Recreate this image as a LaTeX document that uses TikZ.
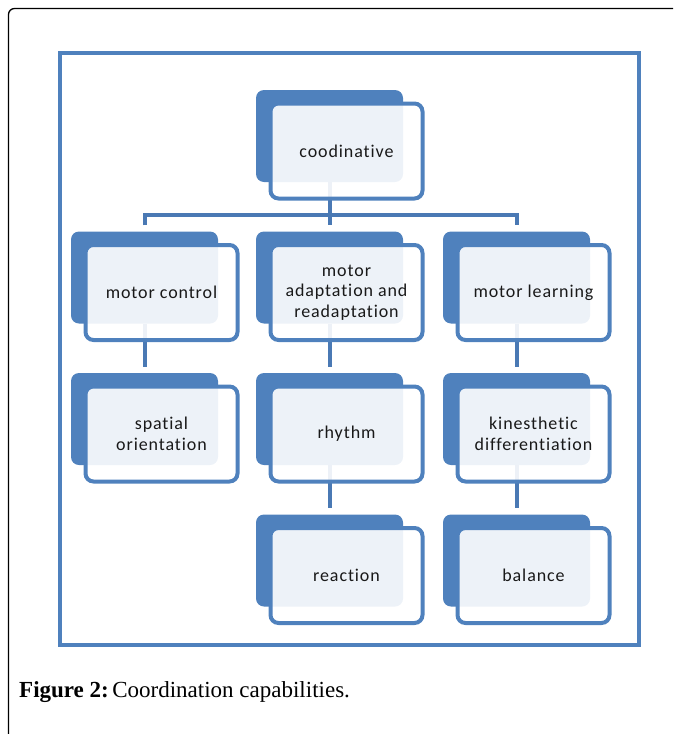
\documentclass[tikz,border=0pt]{standalone}
\usepackage{fontspec}
\setmainfont{Liberation Serif}
\newfontfamily\boxfont[Ligatures=NoCommon,LetterSpace=5]{Carlito}
\definecolor{sablue}{HTML}{4F81BD}
\definecolor{conblue}{HTML}{4A79B4}
\begin{document}
\begin{tikzpicture}[x=1pt,y=-1pt,
 backbox/.style={fill=sablue, rounded corners=8pt, minimum width=147pt, minimum height=92pt, inner sep=0pt},
 frontbox/.style={draw=sablue, line width=4pt, fill=white, fill opacity=0.9, rounded corners=8pt, minimum width=152pt, minimum height=95pt, inner sep=0pt},
 boxlabel/.style={font=\boxfont\fontsize{18}{20.5}\selectfont, align=center, text=black!90, inner sep=0pt},
 conn/.style={draw=conblue, line width=4pt},
 frame/.style={draw=sablue, line width=4pt}]
\useasboundingbox (0,0) rectangle (673,734);
% outer black frame
\draw[line width=1.3pt, rounded corners=6pt] (673,8.5) -- (8.5,8.5) -- (8.5,734);
% blue frame
\draw[frame] (59.5,53) rectangle (639,645);
% back boxes
\node[backbox] (b0) at (329.5,136) {};
\node[backbox] (b1) at (144.5,277.5) {};
\node[backbox] (b2) at (329.5,277.5) {};
\node[backbox] (b3) at (516.5,277.5) {};
\node[backbox] (b4) at (144.5,419) {};
\node[backbox] (b5) at (329.5,419) {};
\node[backbox] (b6) at (516.5,419) {};
\node[backbox] (b7) at (329.5,560.5) {};
\node[backbox] (b8) at (516.5,560.5) {};
% connectors
\coordinate (bar) at (329.5,215);
\draw[conn] (b0.south) -- ([yshift=6pt]b2.north);
\draw[conn] ([yshift=6pt]b1.north) -- (b1.north |- bar) -- (b3.north |- bar) -- ([yshift=6pt]b3.north);
\draw[conn] (b1.south) -- ([yshift=6pt]b4.north);
\draw[conn] (b2.south) -- ([yshift=6pt]b5.north);
\draw[conn] (b3.south) -- ([yshift=6pt]b6.north);
\draw[conn] (b5.south) -- ([yshift=6pt]b7.north);
\draw[conn] (b6.south) -- ([yshift=6pt]b8.north);
% front boxes
\foreach \i in {0,...,8} {
  \node[frontbox] (f\i) at ([xshift=17pt,yshift=-15pt]b\i.center) {};
}
% labels
\node[boxlabel] (t0) at (f0.center) {coodinative};
\node[boxlabel] (t1) at (f1.center) {motor control};
\node[boxlabel] (t2) at (f2.center) {motor\\adaptation and\\readaptation};
\node[boxlabel] (t3) at (f3.center) {motor learning};
\node[boxlabel] (t4) at (f4.center) {spatial\\orientation};
\node[boxlabel] (t5) at (f5.center) {rhythm};
\node[boxlabel] (t6) at (f6.center) {kinesthetic\\differentiation};
\node[boxlabel] (t7) at (f7.center) {reaction};
\node[boxlabel] (t8) at (f8.center) {balance};
% caption
\node[anchor=base west, inner sep=0pt, font=\fontsize{23}{27}\selectfont] (cap) at (19,697) {\textbf{Figure 2:}\hspace{3.5pt}Coordination capabilities.};
\end{tikzpicture}
\end{document}
